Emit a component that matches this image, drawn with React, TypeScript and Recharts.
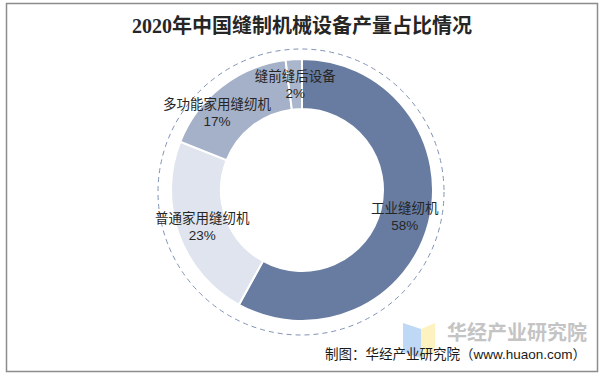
import { PieChart, Pie, Cell } from "recharts";

const categories = ["工业缝纫机", "普通家用缝纫机", "多功能家用缝纫机", "缝前缝后设备"];
const shares = [58, 23, 17, 2];
const colors = ["#687ca1", "#dfe4ee", "#a5b1c9", "#aab6cc"];

const data = categories.map((name, i) => ({ name, value: shares[i] }));

const RAD = Math.PI / 180;
const labelFont = "'Liberation Sans', 'Noto Sans CJK SC', sans-serif";

// the source moved this label off its slice centre to clear its neighbour
const labelNudge: Record<string, [number, number]> = { 多功能家用缝纫机: [-20, 6] };

const renderLabel = (props: any) => {
  const { cx, cy, midAngle, innerRadius, outerRadius, name, value } = props;
  const r = (innerRadius + outerRadius) / 2;
  const [dx, dy] = labelNudge[name] || [0, 0];
  const x = cx + r * Math.cos(-midAngle * RAD) + dx;
  const y = cy + r * Math.sin(-midAngle * RAD) + dy;
  return (
    <text x={x} y={y} textAnchor="middle" fill="#262626" fontSize={13.5} fontFamily={labelFont}>
      <tspan x={x} dy={-3}>{name}</tspan>
      <tspan x={x} dy={17}>{value}%</tspan>
    </text>
  );
};

export default function App() {
  return (
    <div style={{ position: "relative", width: 606, height: 379, background: "#fff" }}>
      <style>{"body{margin:0}"}</style>
      <svg width={606} height={379} style={{ position: "absolute", left: 0, top: 0 }}>
        <rect x={6.5} y={3.5} width={591} height={368} fill="none" stroke="#8c8c8c" strokeWidth={1.5} />
        <text
          x={302}
          y={33}
          textAnchor="middle"
          fontSize={20}
          fontWeight="bold"
          fill="#262626"
          fontFamily="'Liberation Serif', 'Noto Sans CJK SC', serif"
        >
          2020年中国缝制机械设备产量占比情况
        </text>
        <circle cx={301} cy={192} r={143} fill="none" stroke="#8093b5" strokeWidth={1} strokeDasharray="5 4" />
        {/* watermark */}
        <polygon points="403,323 421,329 421,358 403,352" fill="#b3d1f5" opacity={0.85} />
        <polygon points="421,329 435,323 435,352 421,358" fill="#fdf0b5" opacity={0.85} />
        <text x={447} y={340} fontSize={20} fontWeight="bold" fill="#c4c4c4" fontFamily="'Noto Sans CJK SC', sans-serif">
          华经产业研究院
        </text>
        <text x={586} y={359} textAnchor="end" fontSize={13.5} fill="#1a1a1a" fontFamily={labelFont}>
          制图：华经产业研究院（www.huaon.com）
        </text>
      </svg>
      <div style={{ position: "absolute", left: 0, top: 0 }}>
        <PieChart width={606} height={379} margin={{ top: 0, right: 0, bottom: 0, left: 0 }}>
          <Pie
            data={data}
            dataKey="value"
            nameKey="name"
            cx={302}
            cy={190}
            innerRadius={81}
            outerRadius={131}
            startAngle={90}
            endAngle={-270}
            stroke="#ffffff"
            strokeWidth={2}
            label={renderLabel}
            labelLine={false}
            isAnimationActive={false}
          >
            {data.map((d, i) => (
              <Cell key={d.name} fill={colors[i]} />
            ))}
          </Pie>
        </PieChart>
      </div>
    </div>
  );
}
